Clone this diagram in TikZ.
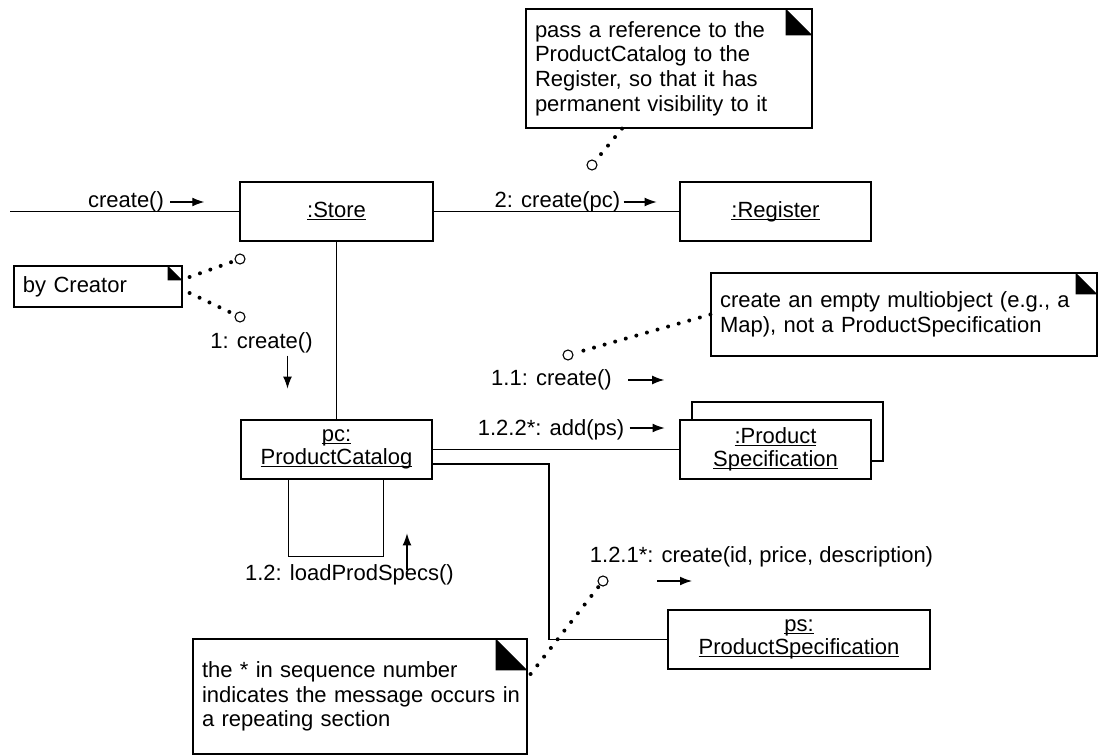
\documentclass[tikz,border=0pt]{standalone}
\usepackage{fontspec}
\setmainfont{Liberation Sans}
\usepackage{tikz}
\usetikzlibrary{arrows.meta}
\tikzset{
  object/.style={draw,line width=0.6pt,inner sep=0pt,align=center,
    minimum height=29.5pt,font=\fontsize{11}{11.5}\selectfont},
  note/.style={draw,line width=0.6pt,inner xsep=4.5pt,inner ysep=0pt,
    align=left,font=\fontsize{11}{12.3}\selectfont},
  msg label/.style={inner sep=0pt,font=\fontsize{11}{12}\selectfont},
  msg/.style={line width=0.55pt,-{Latex[length=6pt,width=4.4pt]}},
  link/.style={line width=0.55pt},
  noteline/.style={line width=2pt,line cap=round,dash pattern=on 0pt off 5.5pt},
  hook/.style={circle,draw,fill=white,line width=0.55pt,inner sep=0pt,
    minimum size=5pt}
}
% underline just below the baseline, as the object names are drawn
\newcommand{\objname}[1]{\setbox0\hbox{#1}\rlap{\rule[-1.3pt]{\wd0}{0.5pt}}\box0}
\newcommand{\notefold}[2]{\fill (#1.north east) ++(-#2,0) -- ++(0,#2) -- ++(#2,0) -- cycle;}

\begin{document}
\begin{tikzpicture}[x=0.5pt,y=-0.5pt]
  \useasboundingbox (0,0) rectangle (1098,755);
  % objects
  \node[object,minimum width=96.5pt] (store) at (336.5,211.5) {\objname{:Store}};
  \node[object,minimum width=95.5pt] (register) at (775.5,211.5) {\objname{:Register}};
  \node[object,minimum width=95.5pt] (pc) at (336.5,449.5) {\objname{pc:}\\\objname{ProductCatalog}};
  \node[object,minimum width=95.5pt] (specsback) at (787.5,431.5) {};
  \node[object,fill=white,minimum width=95.5pt] (specs) at (775.5,449.5) {\objname{:Product}\\\objname{Specification}};
  \node[object,minimum width=131pt] (ps) at (799,639.5) {\objname{ps:}\\\objname{ProductSpecification}};
  \coordinate (entry) at (10,211.5);
  \coordinate (turn) at (549,639.5);
  % links
  \draw[link] (entry) -- (store);
  \draw[link] (store) -- (register);
  \draw[link] (store) -- (pc);
  \draw[link] (pc) -- (specs);
  \draw[link] ([yshift=-7.25pt]pc.east) -| (turn) -- (ps);
  \draw[link] ([xshift=-24pt]pc.south) -- ++(0,77) -| ([xshift=23.5pt]pc.south);
  % messages
  \node[msg label] (m1) at (126,202) {create()};
  \draw[msg] ([xshift=3pt]m1.east) -- ++(34,0);
  \node[msg label] (m2) at (557.5,202) {2: create(pc)};
  \draw[msg] ([xshift=1.5pt]m2.east) -- ++(33,0);
  \node[msg label] (m3) at (261.5,343) {1: create()};
  \draw[msg] ([xshift=13pt,yshift=-1pt]m3.south) -- ++(0,33);
  \node[msg label] (m4) at (551.5,380) {1.1: create()};
  \draw[msg] ([xshift=8pt]m4.east) -- ++(36,0);
  \node[msg label] (m5) at (551,430) {1.2.2*: add(ps)};
  \draw[msg] ([xshift=2.5pt,yshift=1pt]m5.east) -- ++(35,0);
  \node[msg label] (m6) at (349.5,575) {1.2: loadProdSpecs()};
  \draw[msg] ([xshift=28.75pt,yshift=-3pt]m6.north) -- ++(0,-37);
  \node[msg label] (m7) at (761.5,557) {1.2.1*: create(id, price, description)};
  % hooks
  \node[hook] (h2) at (592,165) {};
  \node[hook] (h1a) at (240,259) {};
  \node[hook] (h1b) at (240,317) {};
  \node[hook] (h4) at (568,355) {};
  \node[hook] (h7) at (603,581) {};
  \draw[msg] ([xshift=27pt]h7.center) -- ++(35,0);
  % notes
  \node[note,text width=134pt,minimum height=59.5pt] (refnote) at (669,68.5)
    {pass a reference to the\\ProductCatalog to the\\Register, so that it has\\permanent visibility to it};
  \notefold{refnote}{27}
  \node[note,text width=75pt,minimum height=20.5pt] (creatornote) at (98,286.5) {by Creator};
  \notefold{creatornote}{15}
  \node[note,text width=184pt,minimum height=41.5pt] (mapnote) at (904,314.5)
    {\mbox{create an empty multiobject (e.g., a}\\Map), not a ProductSpecification};
  \notefold{mapnote}{22}
  \node[note,text width=158pt,minimum height=57.5pt] (starnote) at (360,696.5)
    {the * in sequence number\\\mbox{indicates the message occurs in}\\a repeating section};
  \notefold{starnote}{32}
  % note links
  \draw[noteline] ([xshift=-23.5pt]refnote.south) -- (h2);
  \draw[noteline] ([xshift=3.5pt,yshift=4.75pt]creatornote.east) -- (h1a);
  \draw[noteline] ([xshift=3.5pt,yshift=-3.25pt]creatornote.east) -- (h1b);
  \draw[noteline] (mapnote.west) -- (h4);
  \draw[noteline] ([xshift=1.5pt,yshift=11.25pt]starnote.east) -- (h7);
\end{tikzpicture}
\end{document}
